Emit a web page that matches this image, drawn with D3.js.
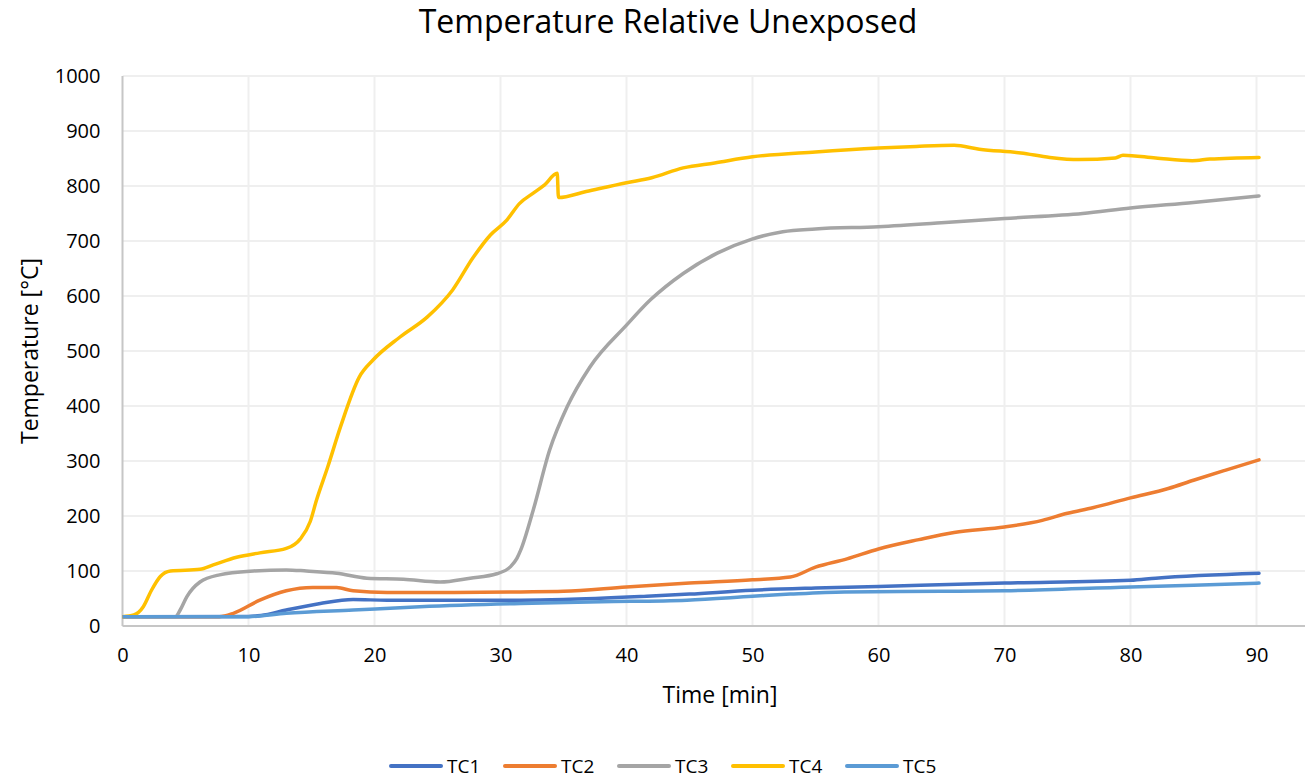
<!DOCTYPE html>
<html>
<head>
<meta charset="utf-8">
<script src="https://cdn.jsdelivr.net/npm/d3@7"></script>
<style>
  body { margin: 0; background: #fff; }
  text { font-family: "Open Sans", sans-serif; fill: #000; }
</style>
</head>
<body>
<div id="chart"></div>
<script>
// series names + colours (Excel default palette)
var seriesNames = ["TC1", "TC2", "TC3", "TC4", "TC5"];
var seriesColors = ["#4472C4", "#ED7D31", "#A5A5A5", "#FFC000", "#5B9BD5"];

var xTicks = [0, 10, 20, 30, 40, 50, 60, 70, 80, 90, 100];
var yTicks = [0, 100, 200, 300, 400, 500, 600, 700, 800, 900, 1000];

// [time min, temperature C]
var tc1 = [[0,17],[10,17.5],[11,19],[13,29],[15.7,41],[18.3,48],[21,47],[31.6,47],[35,48],
  [41.6,54],[45,58],[50,65],[55,69],[60,72],[70,78],[80,83],[82,87],[90.2,96]];

var tc2 = [[0,17],[7.7,17],[8.8,23],[10.9,47],[13,64],[15.1,70],[17,70],[18.3,64],[21,61],
  [26.3,61],[31.6,62],[35,63],[40,71],[45,78],[50,84],[53,89],[55,107],[57.5,122],[60,140],
  [63.2,157],[66,170],[70,180],[73,192],[75,205],[77,215],[80,233],[83,250],[85,265],
  [87.5,283],[90.2,302]];

var tc3 = [[0,17],[4.2,17],[4.6,30],[5.1,53],[6.15,80],[7.7,93],[10.4,100],[13,102],[14.6,100],
  [17,96],[19.4,87],[22.3,85],[25.2,80],[27.6,87],[29.7,95],[30.8,108],[31.3,123],[31.6,138],
  [32.6,211],[33.9,320],[35.3,399],[37.1,471],[40,547],[41.9,593],[44.5,641],[47.2,678],
  [49.9,703],[52.4,717],[55,722],[60,726],[65,733],[70,741],[76.2,750],[80,760],[85,770],
  [90.2,782]];

var tc4 = [[0,17],[0.9,20],[1.65,35],[2.3,65],[3,90],[3.8,100],[6.15,103],[7.2,111],[9.06,125],
  [10.9,133],[13,141],[14.1,158],[14.9,190],[15.4,229],[16.3,290],[17.3,362],[18.8,453],
  [19.9,484],[22,525],[24.2,562],[26.2,611],[27.8,669],[29.2,711],[30.5,738],[31.5,768],
  [32.6,787],[33.5,802],[34.5,823],[34.6,779],[36.8,790],[40,806],[42,815],[44.5,833],
  [47,842],[50,853],[55,862],[60,869],[63,872],[66,874],[68,867],[71.3,860],[73.6,852],
  [75.9,848],[78.8,851],[79.4,856],[82,851],[84.9,846],[86.3,849],[90.2,852]];

var tc5 = [[0,17],[10,17],[13,23],[18.3,29],[23.6,35],[31.6,41],[38,44],[44.8,47],[50,54],
  [53,58],[57.3,62],[65,63],[70,64],[80,71],[85,74],[90.2,78]];

var allSeries = [tc1, tc2, tc3, tc4, tc5];

var width = 1305, height = 778;
var plotLeft = 122.5, plotTop = 76, plotBottom = 626;

var svg = d3.select("#chart").append("svg")
  .attr("width", width)
  .attr("height", height);

// plot area runs past the right edge of the picture
var x = d3.scaleLinear().domain([0, 100]).range([plotLeft, plotLeft + 1260]);
var y = d3.scaleLinear().domain([0, 1000]).range([plotBottom, plotTop]);

svg.append("defs").append("clipPath").attr("id", "clip")
  .append("rect").attr("x", plotLeft).attr("y", 0)
  .attr("width", width - plotLeft).attr("height", plotBottom);

var grid = svg.append("g").attr("clip-path", "url(#clip)");

grid.selectAll(".hgrid").data(yTicks.slice(1)).enter().append("line")
  .attr("x1", plotLeft).attr("x2", x(100))
  .attr("y1", d => y(d)).attr("y2", d => y(d))
  .attr("stroke", "#efefef").attr("stroke-width", 2);

grid.selectAll(".vgrid").data(xTicks.slice(1)).enter().append("line")
  .attr("x1", d => x(d)).attr("x2", d => x(d))
  .attr("y1", plotTop).attr("y2", plotBottom)
  .attr("stroke", "#efefef").attr("stroke-width", 2);

// axes lines
svg.append("line").attr("x1", plotLeft).attr("x2", plotLeft).attr("y1", plotTop).attr("y2", plotBottom)
  .attr("stroke", "#c6c6c6").attr("stroke-width", 2);
svg.append("line").attr("x1", plotLeft).attr("x2", width).attr("y1", plotBottom).attr("y2", plotBottom)
  .attr("stroke", "#c6c6c6").attr("stroke-width", 2);

// tick labels (no tick marks like excel)
var yAxis = d3.axisLeft(y).tickValues(yTicks).tickFormat(d3.format("d")).tickSize(0).tickPadding(22);
var gy = svg.append("g").attr("transform", "translate(" + plotLeft + ",0)").call(yAxis);
gy.select(".domain").remove();
gy.selectAll("text").style("font-size", "20px").attr("fill", "#000");

var xAxis = d3.axisBottom(x).tickValues(xTicks.filter(d => d <= 90)).tickFormat(d3.format("d"))
  .tickSize(0).tickPadding(22);
var gx = svg.append("g").attr("transform", "translate(0," + plotBottom + ")").call(xAxis);
gx.select(".domain").remove();
gx.selectAll("text").style("font-size", "20px").attr("fill", "#000");

// series
var line = d3.line()
  .x(d => x(d[0]))
  .y(d => y(d[1]))
  .curve(d3.curveMonotoneX);

svg.append("g").attr("clip-path", "url(#clip)")
  .selectAll("path").data(allSeries).enter().append("path")
  .attr("d", line)
  .attr("fill", "none")
  .attr("stroke", (d, i) => seriesColors[i])
  .attr("stroke-width", 3.5)
  .attr("stroke-linecap", "round")
  .attr("stroke-linejoin", "round");

// titles
svg.append("text")
  .attr("x", 668).attr("y", 33)
  .attr("text-anchor", "middle")
  .style("font-size", "32px")
  .text("Temperature Relative Unexposed");

svg.append("text")
  .attr("x", 720).attr("y", 703)
  .attr("text-anchor", "middle")
  .style("font-size", "23px")
  .text("Time [min]");

svg.append("text")
  .attr("transform", "translate(38,351) rotate(-90)")
  .attr("text-anchor", "middle")
  .style("font-size", "23px")
  .text("Temperature [°C]");

// legend
var legend = svg.append("g").attr("transform", "translate(391,766)");
var item = legend.selectAll("g").data(seriesNames).enter().append("g")
  .attr("transform", (d, i) => "translate(" + (i * 114) + ",0)");
item.append("line")
  .attr("x1", 0).attr("x2", 50).attr("y1", 0).attr("y2", 0)
  .attr("stroke", (d, i) => seriesColors[i])
  .attr("stroke-width", 4)
  .attr("stroke-linecap", "round");
item.append("text")
  .attr("x", 56).attr("y", 7)
  .style("font-size", "19px")
  .text(d => d);
</script>
</body>
</html>
